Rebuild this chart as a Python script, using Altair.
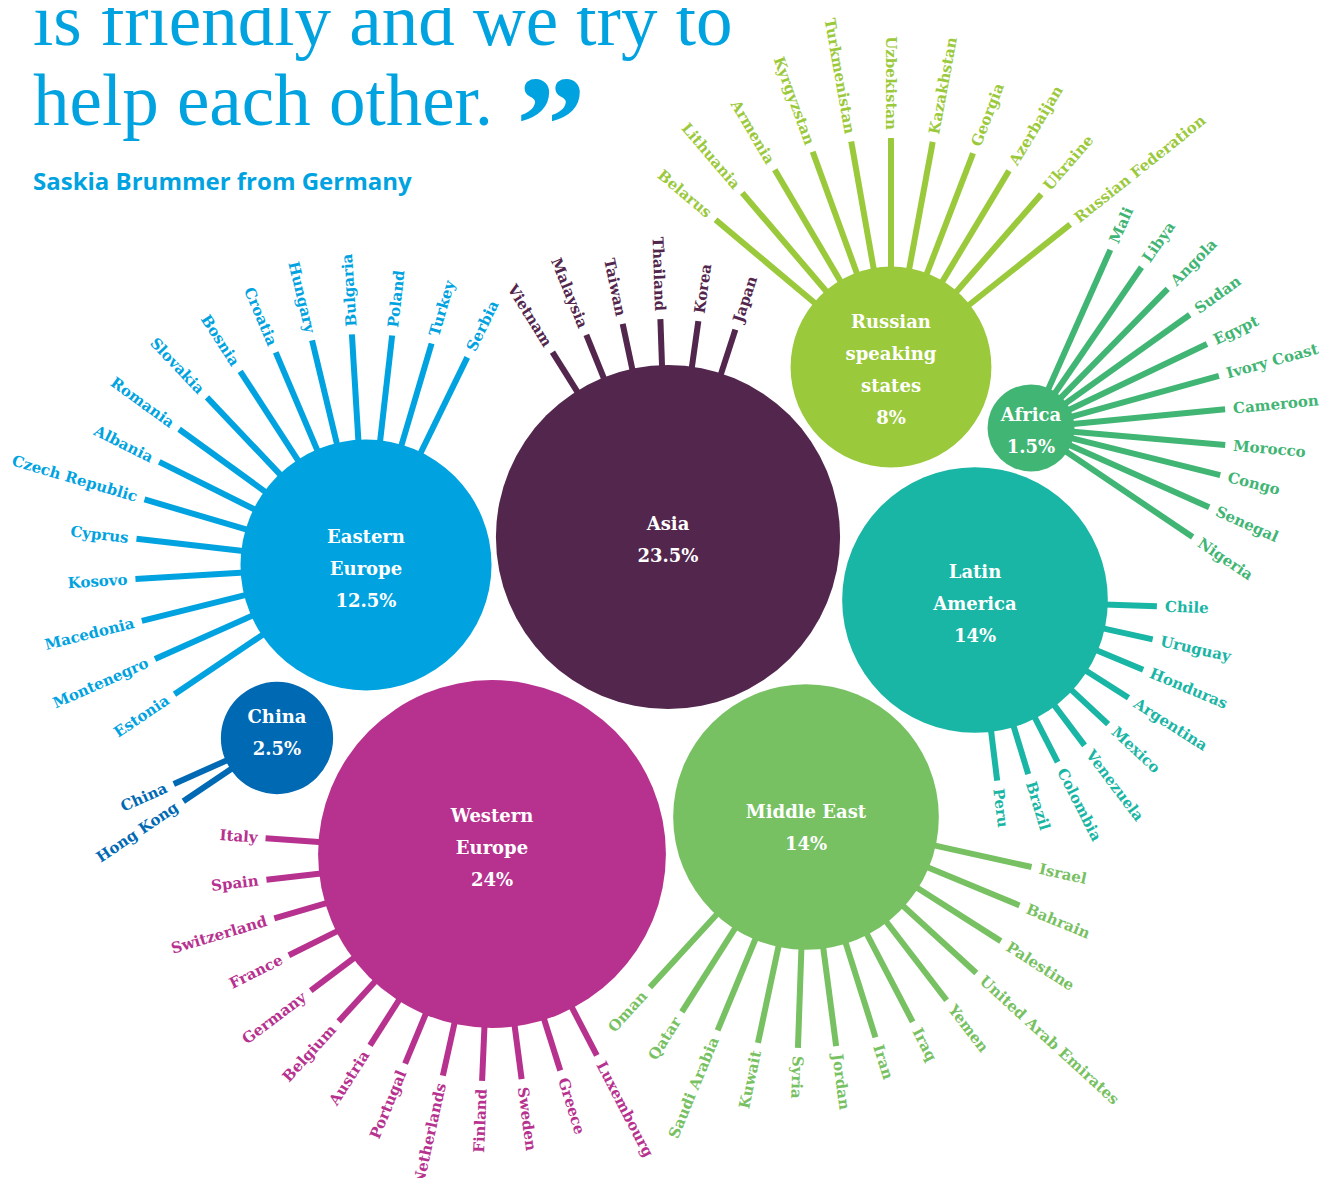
import math
import altair as alt
import pandas as pd

# ---------------- data ----------------
regions = ["Eastern Europe", "Asia", "Russian speaking states", "Africa",
           "Latin America", "Middle East", "Western Europe", "China"]
shares = [12.5, 23.5, 8, 1.5, 14, 14, 24, 2.5]
share_labels = ["12.5%", "23.5%", "8%", "1.5%", "14%", "14%", "24%", "2.5%"]
region_lines = [["Eastern", "Europe"], ["Asia"], ["Russian", "speaking", "states"],
                ["Africa"], ["Latin", "America"], ["Middle East"],
                ["Western", "Europe"], ["China"]]

ee_countries = ["Serbia", "Turkey", "Poland", "Bulgaria", "Hungary", "Croatia", "Bosnia",
                "Slovakia", "Romania", "Albania", "Czech Republic", "Cyprus", "Kosovo",
                "Macedonia", "Montenegro", "Estonia"]
ee_angles = [26, 16.5, 6.5, -3.5, -13.5, -23, -33, -43.5, -54, -63.5, -73.5, -83.5,
             -93.5, -104, -114, -124]

asia_countries = ["Vietnam", "Malaysia", "Taiwan", "Thailand", "Korea", "Japan"]
asia_angles = [-32, -22, -12, -2, 8, 18]

ru_countries = ["Belarus", "Lithuania", "Armenia", "Kyrgyzstan", "Turkmenistan",
                "Uzbekistan", "Kazakhstan", "Georgia", "Azerbaijan", "Ukraine",
                "Russian Federation"]
ru_angles = [-50, -40.5, -30.5, -20, -10, 0, 10.5, 21, 31, 41, 51.5]

af_countries = ["Mali", "Libya", "Angola", "Sudan", "Egypt", "Ivory Coast", "Cameroon",
                "Morocco", "Congo", "Senegal", "Nigeria"]
af_angles = [24, 34.5, 44.5, 54.5, 64.5, 74.5, 84.5, 95, 104, 114, 124]

la_countries = ["Chile", "Uruguay", "Honduras", "Argentina", "Mexico", "Venezuela",
                "Colombia", "Brazil", "Peru"]
la_angles = [92, 102.5, 112.5, 122.5, 133, 143, 153, 163, 173]

me_countries = ["Israel", "Bahrain", "Palestine", "United Arab Emirates", "Yemen", "Iraq",
                "Iran", "Jordan", "Syria", "Kuwait", "Saudi Arabia", "Qatar", "Oman"]
me_angles = [102.5, 112.5, 122.5, 132.5, 142.5, 152.5, 162.5, 172.5, 182, 192, 202.5,
             212.5, 222.5]

we_countries = ["Luxembourg", "Greece", "Sweden", "Finland", "Netherlands", "Portugal",
                "Austria", "Belgium", "Germany", "France", "Switzerland", "Spain", "Italy"]
we_angles = [152.5, 162.5, 172.5, 182.5, 192.5, 202.5, 212.5, 222.5, 233, 243.5, 253.5,
             263.5, 274]

cn_countries = ["China", "Hong Kong"]
cn_angles = [246, 236]

countries = [ee_countries, asia_countries, ru_countries, af_countries,
             la_countries, me_countries, we_countries, cn_countries]
angles = [ee_angles, asia_angles, ru_angles, af_angles,
          la_angles, me_angles, we_angles, cn_angles]

# ---------------- layout & style ----------------
center_x = [366, 668, 891, 1031, 975, 806, 492, 277]
center_y = [565, 537, 367, 428, 600, 817, 854, 738]
spoke_end = [231, 218, 229, 195, 182, 231, 227, 113]
text_shift = [5, 4, 4, 4, 5, 12, -5, -4]
split_top = [-8, 0, 5, 0, 0, 0, 0, 0]
split_bottom = [180, 180, 180, 180, 180, 187, 180, 180]
colors = ["#00a3df", "#52264d", "#9bc93c", "#41b574", "#19b5a5", "#77c162",
          "#b7318f", "#0069b4"]

R_PER_SQRT = 35.5          # bubble radius per sqrt(share)
LABEL_GAP = 8
SERIF = "DejaVu Serif"
BLUE = "#00a3df"

W, H = 1321, 1170
X0, Y0 = 8, 8

# ---------------- tables ----------------
bubbles = pd.DataFrame({"region": regions, "share": shares,
                        "cx": center_x, "cy": center_y})

spoke_rows, label_rows, name_rows = [], [], []
for i, reg in enumerate(regions):
    cx, cy = center_x[i], center_y[i]
    r_bub = R_PER_SQRT * math.sqrt(shares[i])
    r_in = r_bub - 4
    r_out = spoke_end[i]
    for c, a in zip(countries[i], angles[i]):
        rad = math.radians(a)
        s, co = math.sin(rad), math.cos(rad)
        spoke_rows.append(dict(region=reg, country=c,
                               x=cx + r_in * s, y=cy - r_in * co,
                               x2=cx + r_out * s, y2=cy - r_out * co))
        outward = split_top[i] < a < split_bottom[i]
        rl = r_out + LABEL_GAP
        rot = (a - 90) % 360 if outward else (a + 90) % 360
        label_rows.append(dict(region=reg, country=c, x=cx + rl * s, y=cy - rl * co,
                               rot=rot, outward=outward))
    lines = region_lines[i] + [share_labels[i]]
    n = len(lines)
    for k, t in enumerate(lines):
        name_rows.append(dict(region=reg, text=t, x=cx,
                              y=cy + (k - (n - 1) / 2) * 32 + text_shift[i]))

spokes = pd.DataFrame(spoke_rows)
labels = pd.DataFrame(label_rows)
names = pd.DataFrame(name_rows)

xs = alt.Scale(domain=[X0, X0 + W], zero=False, nice=False)
ys = alt.Scale(domain=[Y0, Y0 + H], zero=False, nice=False, reverse=True)
col = alt.Color("region:N", scale=alt.Scale(domain=regions, range=colors), legend=None)

spoke_layer = alt.Chart(spokes).mark_rule(strokeWidth=6, strokeCap="butt").encode(
    x=alt.X("x:Q", scale=xs, axis=None), y=alt.Y("y:Q", scale=ys, axis=None),
    x2="x2:Q", y2="y2:Q", color=col)

# Vega circle symbol: size = (diameter)^2
bubble_layer = alt.Chart(bubbles).mark_circle(opacity=1).encode(
    x=alt.X("cx:Q", scale=xs, axis=None), y=alt.Y("cy:Q", scale=ys, axis=None),
    size=alt.Size("share:Q", scale=alt.Scale(domain=[0, 24],
                  range=[0, 4 * R_PER_SQRT ** 2 * 24]), legend=None),
    color=col)

name_layer = alt.Chart(names).mark_text(
    font=SERIF, fontSize=18, fontWeight="bold", color="white",
    align="center", baseline="middle").encode(
    x=alt.X("x:Q", scale=xs, axis=None), y=alt.Y("y:Q", scale=ys, axis=None),
    text="text:N")

def country_layer(outward):
    d = labels[labels["outward"] == outward]
    return alt.Chart(d).mark_text(
        font=SERIF, fontSize=15, fontWeight="bold",
        align="left" if outward else "right", baseline="middle").encode(
        x=alt.X("x:Q", scale=xs, axis=None), y=alt.Y("y:Q", scale=ys, axis=None),
        text="country:N", angle=alt.Angle("rot:Q", scale=None), color=col)

quote_lines = ["is friendly and we try to", "help each other."]
attribution = ["Saskia Brummer from Germany"]

title1 = alt.Chart(pd.DataFrame({"t": [quote_lines[0]]})).mark_text(
    font="Liberation Serif", fontSize=73, color=BLUE, align="left",
    baseline="alphabetic").encode(x=alt.value(25), y=alt.value(37), text="t:N")
title2 = alt.Chart(pd.DataFrame({"t": [quote_lines[1]]})).mark_text(
    font="Liberation Serif", fontSize=73, color=BLUE, align="left",
    baseline="alphabetic").encode(x=alt.value(25), y=alt.value(117), text="t:N")
quote_mark = alt.Chart(pd.DataFrame({"t": ["\u201d"]})).mark_text(
    font="Liberation Serif", fontSize=140, fontWeight="bold", color=BLUE, align="left",
    baseline="alphabetic").encode(x=alt.value(508), y=alt.value(164), text="t:N")
subtitle = alt.Chart(pd.DataFrame({"t": attribution})).mark_text(
    font="Open Sans", fontSize=24, fontWeight="bold", color=BLUE, align="left",
    baseline="alphabetic").encode(x=alt.value(25), y=alt.value(182), text="t:N")

chart = alt.layer(
    spoke_layer, bubble_layer, name_layer, country_layer(True), country_layer(False),
    title1, title2, quote_mark, subtitle
).properties(
    width=W, height=H, padding=0, background="white",
    autosize=alt.AutoSizeParams(type="none")
).configure_view(stroke=None, strokeWidth=0)

chart.save("out.html", embed_options={"renderer": "svg", "actions": False})
